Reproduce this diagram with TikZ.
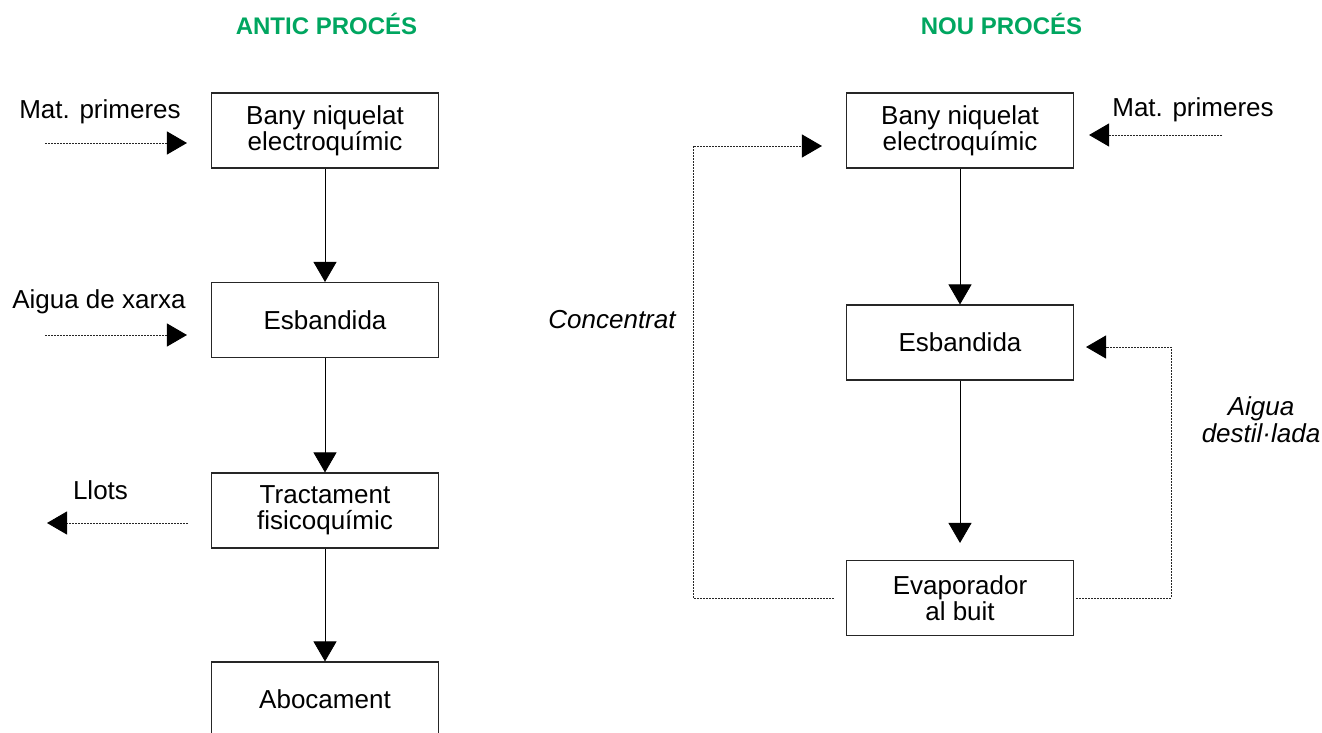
\documentclass[tikz,border=0pt]{standalone}
\usepackage{fontspec}
\setmainfont{Liberation Sans}
\usetikzlibrary{arrows.meta}
\definecolor{titlegreen}{RGB}{0,166,96}
\begin{document}
\begin{tikzpicture}[x=1pt,y=-1pt,
  box/.style={draw=black!85, line width=1.1pt, minimum width=227pt, minimum height=75pt,
    inner sep=0pt, align=center, font=\fontsize{26}{26}\selectfont},
  flow/.style={line width=0.8pt, -{Triangle[width=23pt,length=20pt]}},
  dotarrow/.style={line width=0.9pt, draw=black!85, dash pattern=on 1.6pt off 1.4pt,
    -{Triangle[width=23pt,length=20pt,color=black]}},
  lbl/.style={anchor=base, inner sep=0pt, align=center, font=\fontsize{26}{27}\selectfont},
  ttl/.style={anchor=base, inner sep=0pt, text=titlegreen, font=\fontsize{24}{24}\selectfont\bfseries}]
\useasboundingbox (0,0) rectangle (1322,733);
\fill[white] (0,0) rectangle (1322,733);

% titles
\node[ttl] (tA) at (326.5,35) {ANTIC PROCÉS};
\node[ttl] (tN) at (1001.5,35) {NOU PROCÉS};

% left column
\node[box] (a1) at (325,130.5) {Bany niquelat\\electroquímic};
\node[box] (a2) at (325,320) {Esbandida};
\node[box] (a3) at (325,510.5) {Tractament\\fisicoquímic};
\node[box] (a4) at (325,699.5) {Abocament};

\draw[flow] (a1) -- (a2);
\draw[flow] (a2) -- (a3);
\draw[flow] (a3) -- (a4);

\node[lbl] (lMP) at (100,119) {Mat. primeres};
\node[lbl] (lAX) at (99,308) {Aigua de xarxa};
\node[lbl] (lLL) at (100.5,499) {Llots};

\coordinate (inMP) at (45,143);
\coordinate (inAX) at (45,335);
\coordinate (outLL) at (47,523);
\draw[dotarrow, shorten >=24pt] (inMP) -- (inMP -| a1.west);
\draw[dotarrow, shorten >=24pt] (inAX) -- (inAX -| a2.west);
\draw[dotarrow, shorten <=23pt] (outLL -| a3.west) -- (outLL);

% right column
\node[box] (b1) at (960,130.5) {Bany niquelat\\electroquímic};
\node[box] (b2) at (960,342.5) {Esbandida};
\node[box] (b3) at (960,598) {Evaporador\\al buit};

\draw[flow] (b1) -- (b2);
\draw[flow, shorten >=17pt] (b2) -- (b3);

\node[lbl] (rMP) at (1193,117) {Mat. primeres};
\coordinate (inMPr) at (1222,135);
\draw[dotarrow, shorten >=15pt] (inMPr) -- (inMPr -| b1.east);

\node[lbl, font=\fontsize{26}{27}\selectfont\itshape] (conc) at (612,328) {Concentrat};
\coordinate (cL) at (693,146);
\draw[dotarrow, shorten <=12pt, shorten >=24pt]
  (b3.west) -- (b3.west -| cL) -- (cL) -- (cL -| b1.west);

\node[lbl, font=\fontsize{26}{27}\selectfont\itshape] (aigd) at (1261,442) {Aigua\\destil·lada};
\coordinate (aR) at (1171,347);
\draw[dotarrow, shorten <=2pt, shorten >=12pt]
  (b3.east) -- (b3.east -| aR) -- (aR) -- (aR -| b2.east);
\end{tikzpicture}
\end{document}
